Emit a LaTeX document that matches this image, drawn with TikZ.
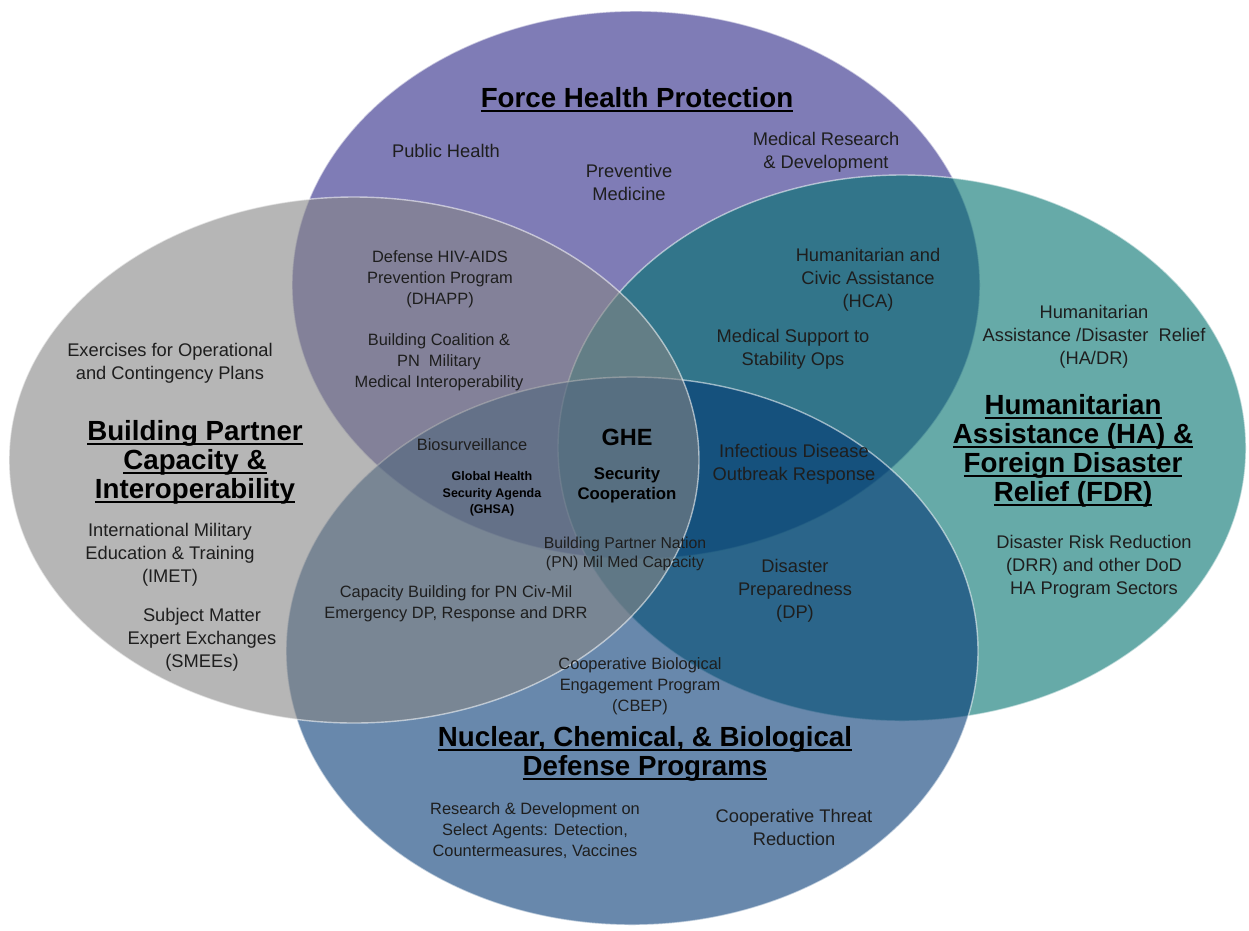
\documentclass[tikz,border=0pt]{standalone}
\usepackage{fontspec}
\setmainfont{Liberation Sans}
\usetikzlibrary{positioning}

\definecolor{fhpcol}{RGB}{42,37,133}
\definecolor{bpccol}{RGB}{133,133,133}
\definecolor{hadrcol}{RGB}{0,113,110}
\definecolor{ncbcol}{RGB}{3,57,117}
\definecolor{inkcol}{RGB}{30,30,30}

\newcommand{\headline}[1]{\setbox0\hbox{#1}\rlap{\rule[-4.5pt]{\wd0}{2pt}}\box0}

\begin{document}
\begin{tikzpicture}[x=1pt,y=-1pt]
\tikzstyle{venn}=[fill opacity=0.6, draw=white, draw opacity=0.55, line width=1.4pt]
\tikzstyle{txt}=[align=center, inner sep=0pt, text=inkcol, font=\fontsize{18.3}{23}\selectfont]
\tikzstyle{stxt}=[align=center, inner sep=0pt, text=inkcol, font=\fontsize{16.4}{21}\selectfont]
\tikzstyle{head}=[align=center, inner sep=0pt, text=black, font=\fontsize{27.7}{29}\selectfont\bfseries]
\tikzstyle{sbold}=[align=center, inner sep=0pt, text=black, font=\fontsize{12.5}{16.5}\selectfont\bfseries]
\tikzstyle{mbold}=[align=center, inner sep=0pt, text=black, font=\fontsize{16.8}{20}\selectfont\bfseries]
\useasboundingbox (0,0) rectangle (1249,930);
% 1. Circles
%%%%%%%%%%%
\filldraw[venn, fill=fhpcol]  (636,285) ellipse (344 and 274);
\filldraw[venn, fill=hadrcol] (902,448) ellipse (344 and 273);
\filldraw[venn, fill=ncbcol]  (632,651) ellipse (346 and 274);
\filldraw[venn, fill=bpccol]  (354,460) ellipse (345 and 263);

% 2. Headings
%%%%%%%%%%%%
\node[head] (fhp)  at (637,100) {\headline{Force Health Protection}};
\node[head] (bpc)  at (195,462) {\headline{Building Partner}\\\headline{Capacity \&}\\\headline{Interoperability}};
\node[head] (hadr) at (1073,451) {\headline{Humanitarian}\\\headline{Assistance (HA) \&}\\\headline{Foreign Disaster}\\\headline{Relief (FDR)}};
\node[head] (ncb)  at (645,754) {\headline{Nuclear, Chemical, \& Biological}\\\headline{Defense Programs}};

% 3. Programs
%%%%%%%%%%%%
\node[txt]  (pubhealth)  at (446,151) {Public Health};
\node[txt]  (prevmed)    at (629,182) {Preventive\\Medicine};
\node[txt]  (medrd)      at (826,152) {Medical Research\\\& Development};
\node[stxt] (dhapp)      at (440,279) {Defense HIV-AIDS\\Prevention Program\\(DHAPP)};
\node[stxt] (coalition)  at (439,362) {Building Coalition \&\\PN\ \ Military\\Medical Interoperability};
\node[txt]  (exercises)  at (170,363) {Exercises for Operational\\and Contingency Plans};
\node[stxt] (biosurv)    at (472,445) {Biosurveillance};
\node[sbold] (ghsa)      at (492,494) {Global Health\\Security Agenda\\(GHSA)};
\node[font=\fontsize{23.5}{26}\selectfont\bfseries, inner sep=0pt] (ghe) at (627,437) {GHE};
\node[mbold] (seccoop)   [below=22pt of ghe] {Security\\Cooperation};
\node[stxt, font=\fontsize{15.8}{18.5}\selectfont] (bpn) at (625,554) {Building Partner Nation\\(PN) Mil Med Capacity};
\node[txt]  (idor)       at (794,464) {Infectious Disease\\Outbreak Response};
\node[txt]  (hca)        at (868,280) {Humanitarian and\\Civic Assistance\\(HCA)};
\node[txt]  (medsupport) at (793,349) {Medical Support to\\Stability Ops};
\node[txt]  (hadrprog)   at (1094,337) {Humanitarian\\Assistance /Disaster\ \ Relief\\(HA/DR)};
\node[txt]  (imet)       at (170,555) {International Military\\Education \& Training\\(IMET)};
\node[txt]  (smee)       at (202,640) {Subject Matter\\Expert Exchanges\\(SMEEs)};
\node[stxt] (capbuild)   at (456,604) {Capacity Building for PN Civ-Mil\\Emergency DP, Response and DRR};
\node[txt]  (dp)         at (795,591) {Disaster\\Preparedness\\(DP)};
\node[stxt] (cbep)       at (640,686) {Cooperative Biological\\Engagement Program\\(CBEP)};
\node[stxt] (rdsel)      at (535,831) {Research \& Development on\\Select Agents: Detection,\\Countermeasures, Vaccines};
\node[txt]  (ctr)        at (794,827) {Cooperative Threat\\Reduction};
\node[txt]  (drr)        at (1094,567) {Disaster Risk Reduction\\(DRR) and other DoD\\HA Program Sectors};
\end{tikzpicture}
\end{document}
